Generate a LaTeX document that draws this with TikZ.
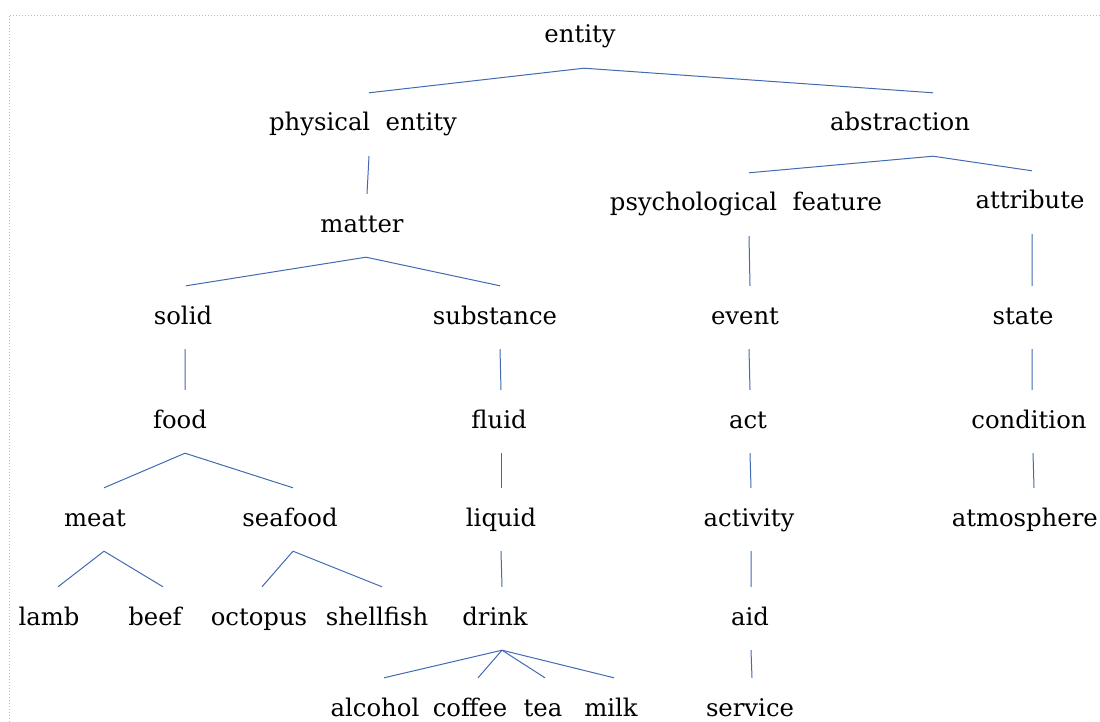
\documentclass[tikz,border=0pt]{standalone}
\usepackage{fontspec}
\setmainfont{DejaVu Serif}
\definecolor{linkblue}{RGB}{66,106,176}
\begin{document}
\begin{tikzpicture}[x=1bp,y=-1bp,
  lbl/.style={font=\fontsize{24.4}{28}\selectfont, anchor=base, text height=38bp, text depth=25bp, inner sep=0pt},
  conn/.style={draw=linkblue, line width=1bp},
  frame/.style={draw=gray!55, line width=0.9bp, dash pattern=on 0.9bp off 2.1bp}]
\useasboundingbox (0,0) rectangle (1100,722);
\draw[frame] (9,722) -- (9,15) -- (1100,15);
% nodes (x = text centre, y = baseline)
\node[lbl] (entity) at (580,43) {entity};
\node[lbl] (phys) at (363,131) {physical\ \ entity};
\node[lbl] (abstr) at (900,131) {abstraction};
\node[lbl] (psych) at (746,211) {psychological\ \ feature};
\node[lbl] (attr) at (1030,209) {attribute};
\node[lbl] (matter) at (362,232) {matter};
\node[lbl] (solid) at (183,324) {solid};
\node[lbl] (subst) at (495,324) {substance};
\node[lbl] (event) at (745,324) {event};
\node[lbl] (state) at (1023,324) {state};
\node[lbl] (food) at (180,428) {food};
\node[lbl] (fluid) at (499,428) {fluid};
\node[lbl] (act) at (748,428) {act};
\node[lbl] (cond) at (1029,428) {condition};
\node[lbl] (meat) at (95,526) {meat};
\node[lbl] (seafood) at (290,526) {seafood};
\node[lbl] (liquid) at (501,526) {liquid};
\node[lbl] (activity) at (749,526) {activity};
\node[lbl, anchor=base east] (atmos) at (1098,526) {atmosphere};
\node[lbl] (lamb) at (49,625) {lamb};
\node[lbl] (beef) at (155,625) {beef};
\node[lbl] (octopus) at (259,625) {octopus};
\node[lbl] (shellfish) at (377,625) {shellfish};
\node[lbl] (drink) at (495,625) {drink};
\node[lbl] (aid) at (750,625) {aid};
\node[lbl] (alcohol) at (375,716) {alcohol};
\node[lbl] (coffee) at (470,716) {coffee};
\node[lbl] (tea) at (543,716) {tea};
\node[lbl] (milk) at (611,716) {milk};
\node[lbl] (service) at (750,716) {service};
% connectors
\draw[conn] ([xshift=4bp]entity.south) -- ([xshift=6bp]phys.north);
\draw[conn] ([xshift=4bp]entity.south) -- ([xshift=33bp]abstr.north);
\draw[conn] ([xshift=6bp]phys.south) -- ([xshift=5bp]matter.north);
\draw[conn] ([xshift=33bp]abstr.south) -- ([xshift=3bp]psych.north);
\draw[conn] ([xshift=33bp]abstr.south) -- ([xshift=2bp]attr.north);
\draw[conn] ([xshift=3bp]psych.south) -- ([xshift=5bp]event.north);
\draw[conn] ([xshift=2bp]attr.south) -- ([xshift=9bp]state.north);
\draw[conn] ([xshift=4bp]matter.south) -- ([xshift=3bp]solid.north);
\draw[conn] ([xshift=4bp]matter.south) -- ([xshift=5bp]subst.north);
\draw[conn] ([xshift=2bp]solid.south) -- ([xshift=5bp]food.north);
\draw[conn] ([xshift=5bp]subst.south) -- ([xshift=2bp]fluid.north);
\draw[conn] ([xshift=4bp]event.south) -- ([xshift=2bp]act.north);
\draw[conn] ([xshift=9bp]state.south) -- ([xshift=3bp]cond.north);
\draw[conn] ([xshift=5bp]food.south) -- ([xshift=9bp]meat.north);
\draw[conn] ([xshift=5bp]food.south) -- ([xshift=3bp]seafood.north);
\draw[conn] ([xshift=2bp]fluid.south) -- (liquid.north);
\draw[conn] ([xshift=2bp]act.south) -- ([xshift=2bp]activity.north);
\draw[conn] ([xshift=4bp]cond.south) -- ([xshift=5bp]cond.south |- atmos.north);
\draw[conn] ([xshift=9bp]meat.south) -- ([xshift=9bp]lamb.north);
\draw[conn] ([xshift=9bp]meat.south) -- ([xshift=8bp]beef.north);
\draw[conn] ([xshift=3bp]seafood.south) -- ([xshift=3bp]octopus.north);
\draw[conn] ([xshift=3bp]seafood.south) -- ([xshift=5bp]shellfish.north);
\draw[conn] (liquid.south) -- ([xshift=7bp]drink.north);
\draw[conn] ([xshift=2bp]activity.south) -- ([xshift=1bp]aid.north);
\draw[conn] ([xshift=7bp]drink.south) -- ([xshift=9bp]alcohol.north);
\draw[conn] ([xshift=7bp]drink.south) -- ([xshift=8bp]coffee.north);
\draw[conn] ([xshift=7bp]drink.south) -- ([xshift=2bp]tea.north);
\draw[conn] ([xshift=7bp]drink.south) -- ([xshift=3bp]milk.north);
\draw[conn] ([xshift=1bp]aid.south) -- ([xshift=2bp]service.north);
\end{tikzpicture}
\end{document}
